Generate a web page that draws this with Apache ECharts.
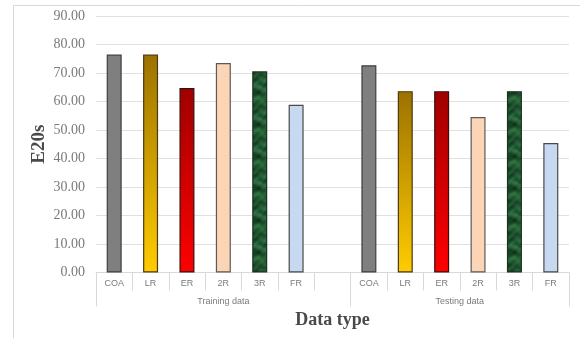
<!DOCTYPE html>
<html>
<head>
<meta charset="utf-8">
<script src="https://cdn.jsdelivr.net/npm/echarts@6/dist/echarts.min.js"></script>
<style>
  html, body { margin: 0; padding: 0; background: #fff; }
  #chart { width: 580px; height: 338px; }
</style>
</head>
<body>
<div id="chart"></div>
<script>
// Model labels for each slot on the x axis; the empty slot separates the two groups.
const categories = ['COA', 'LR', 'ER', '2R', '3R', 'FR', '', 'COA', 'LR', 'ER', '2R', '3R', 'FR'];
// E20s values per model
const trainingValues = [76.47, 76.47, 64.71, 73.53, 70.59, 58.82];
const testingValues = [72.73, 63.64, 63.64, 54.55, 63.64, 45.45];
// Group labels under the model labels, with the slot span each one covers
const groupNames = ['Training data', 'Testing data'];
const groupSpans = [7, 6];
const yTicks = [0, 10, 20, 30, 40, 50, 60, 70, 80, 90];

// Mottled dark-green fill for the 3R bars, built from layered sine waves.
function marbleCanvas() {
  const c = document.createElement('canvas');
  c.width = 32; c.height = 32;
  const ctx = c.getContext('2d');
  const img = ctx.createImageData(32, 32);
  for (let y = 0; y < 32; y++) {
    for (let x = 0; x < 32; x++) {
      const a = Math.PI * 2 / 32;
      let v = Math.sin(x * a * 1 + Math.sin(y * a * 2) * 1.7)
            + Math.sin(y * a * 3 + Math.cos(x * a * 2) * 1.3) * 0.8
            + Math.sin((x + y) * a * 4) * 0.4;
      v = (v + 2.2) / 4.4;
      v = Math.max(0, Math.min(1, v));
      const i = (y * 32 + x) * 4;
      img.data[i] = 14 + v * 36;
      img.data[i + 1] = 50 + v * 70;
      img.data[i + 2] = 28 + v * 40;
      img.data[i + 3] = 255;
    }
  }
  ctx.putImageData(img, 0, 0);
  return c;
}

const vGrad = (top, bottom) => ({
  type: 'linear', x: 0, y: 0, x2: 0, y2: 1,
  colorStops: [{ offset: 0, color: top }, { offset: 1, color: bottom }]
});

const modelStyles = [
  { color: '#7f7f7f', borderColor: '#3f3f3f' },
  { color: vGrad('#9c7200', '#ffcc00'), borderColor: '#4a3a10' },
  { color: vGrad('#a00000', '#ff0000'), borderColor: '#3a1010' },
  { color: '#fbd5b5', borderColor: '#5a5a5a' },
  { color: { image: marbleCanvas(), repeat: 'repeat' }, borderColor: '#1f2f22' },
  { color: '#c6d9f1', borderColor: '#4a4a4a' }
];

const barData = [];
trainingValues.forEach((v, i) => barData.push({ value: v, itemStyle: modelStyles[i] }));
barData.push('-');
testingValues.forEach((v, i) => barData.push({ value: v, itemStyle: modelStyles[i] }));

// Boundaries and centres of the group spans on a 0..N value scale
const groupEdges = [0];
groupSpans.forEach(s => groupEdges.push(groupEdges[groupEdges.length - 1] + s));
const groupCenters = groupSpans.map((s, i) => groupEdges[i] + s / 2);

const chart = echarts.init(document.getElementById('chart'), null, { renderer: 'canvas' });
chart.setOption({
  animation: false,
  backgroundColor: '#ffffff',
  grid: { left: 96, right: 11, top: 16, bottom: 65.5, containLabel: false, outerBoundsMode: 'none' },
  graphic: [{
    type: 'rect',
    shape: { x: 13.5, y: 5.5, width: 700, height: 500 },
    style: { fill: 'none', stroke: '#d9d9d9', lineWidth: 1 },
    silent: true, z: -10
  }],
  xAxis: [{
    type: 'category',
    data: categories,
    name: 'Data type',
    nameLocation: 'middle',
    nameGap: 39,
    nameMoveOverlap: false,
    nameTextStyle: { fontFamily: 'Liberation Serif', fontWeight: 'bold', fontSize: 18, color: '#4a4a4a' },
    axisLine: { show: true, lineStyle: { color: '#d9d9d9', width: 1 } },
    axisTick: { show: true, length: 18, lineStyle: { color: '#d9d9d9' } },
    axisLabel: { interval: 0, margin: 7, fontFamily: 'Liberation Sans', fontSize: 9, color: '#7a7a7a' },
    splitLine: { show: false }
  }, {
    type: 'value',
    position: 'bottom',
    min: 0,
    max: groupEdges[groupEdges.length - 1],
    axisLine: { show: false },
    splitLine: { show: false },
    axisTick: { show: true, length: 34, customValues: groupEdges, lineStyle: { color: '#d9d9d9' } },
    axisLabel: {
      show: true,
      customValues: groupCenters,
      margin: 25,
      fontFamily: 'Liberation Sans', fontSize: 9, color: '#7a7a7a',
      formatter: v => {
        const i = groupCenters.indexOf(v);
        return i >= 0 ? groupNames[i] : '';
      }
    }
  }],
  yAxis: {
    type: 'value',
    min: yTicks[0],
    max: yTicks[yTicks.length - 1],
    interval: yTicks[1] - yTicks[0],
    name: 'E20s',
    nameLocation: 'middle',
    nameGap: 47,
    nameMoveOverlap: false,
    nameTextStyle: { fontFamily: 'Liberation Serif', fontWeight: 'bold', fontSize: 19, color: '#4a4a4a' },
    axisLine: { show: false },
    axisTick: { show: false },
    axisLabel: {
      margin: 11,
      fontFamily: 'Liberation Serif', fontSize: 14, color: '#7a7a7a',
      formatter: v => v.toFixed(2)
    },
    splitLine: { lineStyle: { color: '#e0e0e0', width: 1 } }
  },
  series: [{
    type: 'bar',
    xAxisIndex: 0,
    data: barData,
    barWidth: 15,
    itemStyle: { borderWidth: 1.2 }
  }]
});
</script>
</body>
</html>
